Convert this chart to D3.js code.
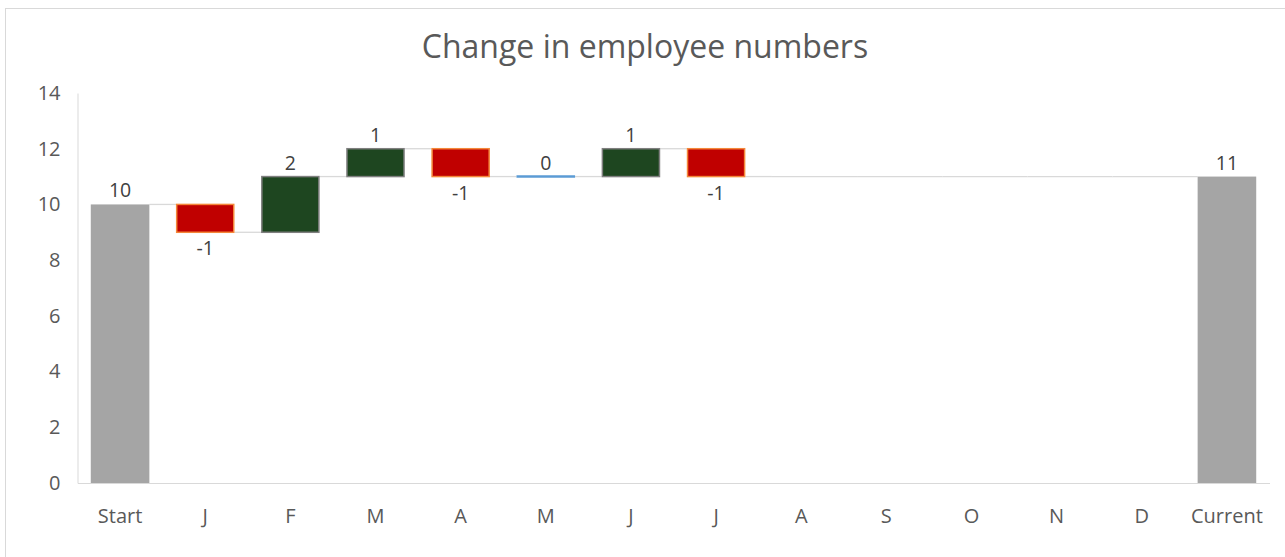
<!DOCTYPE html>
<html>
<head>
<meta charset="utf-8">
<script src="https://cdn.jsdelivr.net/npm/d3@7"></script>
<style>
  body { margin: 0; background: #fff; }
  svg { display: block; font-family: "Open Sans", "Noto Sans", sans-serif; }
</style>
</head>
<body>
<svg id="chart" width="1285" height="557"></svg>
<script>
// chart data
const categories = ['Start', 'J', 'F', 'M', 'A', 'M', 'J', 'J', 'A', 'S', 'O', 'N', 'D', 'Current'];
const startValue = 10;
const monthChanges = [-1, 2, 1, -1, 0, 1, -1, null, null, null, null, null];
const currentValue = 11;
const yTicks = [0, 2, 4, 6, 8, 10, 12, 14];

const svg = d3.select('#chart');
const margin = { left: 77.5, right: 15.5, top: 93, bottom: 74 };
const W = 1285, H = 557;

// outer frame
svg.append('rect')
  .attr('x', 5.5).attr('y', 8.5)
  .attr('width', 1285).attr('height', 560)
  .attr('fill', 'none').attr('stroke', '#d9d9d9');

svg.append('text')
  .attr('x', 645).attr('y', 58)
  .attr('text-anchor', 'middle')
  .attr('font-size', 32)
  .attr('fill', '#595959')
  .text('Change in employee numbers');

// build waterfall rows
let level = startValue;
const rows = [{ i: 0, type: 'total', lo: 0, hi: startValue, label: startValue, end: startValue }];
monthChanges.forEach((c, k) => {
  const i = k + 1;
  if (c === null) {
    rows.push({ i, type: 'empty', end: level });
    return;
  }
  const before = level;
  level += c;
  rows.push({
    i, type: c > 0 ? 'up' : (c < 0 ? 'down' : 'zero'),
    lo: Math.min(before, level), hi: Math.max(before, level),
    label: c, value: c, end: level
  });
});
rows.push({ i: categories.length - 1, type: 'total', lo: 0, hi: currentValue, label: currentValue, end: currentValue });

const x = d3.scaleBand()
  .domain(d3.range(categories.length))
  .range([margin.left, W - margin.right])
  .paddingInner(0.312).paddingOuter(0.156);
const y = d3.scaleLinear().domain([0, 14]).range([H - margin.bottom, margin.top]);
const bw = x.bandwidth();

// axes
const yAxis = svg.append('g')
  .attr('transform', `translate(${margin.left},0)`)
  .call(d3.axisLeft(y).tickValues(yTicks).tickSize(0).tickPadding(17))
  .attr('font-family', null).attr('font-size', 20);
yAxis.select('.domain').attr('stroke', '#d9d9d9');
yAxis.selectAll('text').attr('fill', '#595959');

const xAxis = svg.append('g')
  .attr('transform', `translate(0,${y(0)})`)
  .call(d3.axisBottom(x).tickFormat(i => categories[i]).tickSize(0).tickPadding(26))
  .attr('font-family', null).attr('font-size', 20);
xAxis.select('.domain').attr('stroke', '#d9d9d9');
xAxis.selectAll('text').attr('fill', '#595959');

// connectors
const conn = svg.append('g').attr('stroke', '#d9d9d9').attr('stroke-width', 1.3);
rows.forEach((r, k) => {
  if (k === rows.length - 1) return;
  const yy = y(r.end);
  const x0 = r.type === 'empty' ? x(r.i) : x(r.i) + bw;
  conn.append('line')
    .attr('x1', x0).attr('x2', x(rows[k + 1].i))
    .attr('y1', yy).attr('y2', yy);
});

// bars
const styles = {
  total: { fill: '#a5a5a5', stroke: 'none' },
  up: { fill: '#1e4620', stroke: '#7f7f7f' },
  down: { fill: '#c00000', stroke: '#f4873a' }
};
svg.append('g').selectAll('rect')
  .data(rows.filter(r => styles[r.type]))
  .join('rect')
  .attr('x', r => x(r.i) + (r.type === 'total' ? 0 : 0.75))
  .attr('width', r => bw - (r.type === 'total' ? 0 : 1.5))
  .attr('y', r => y(r.hi))
  .attr('height', r => y(r.lo) - y(r.hi))
  .attr('fill', r => styles[r.type].fill)
  .attr('stroke', r => styles[r.type].stroke)
  .attr('stroke-width', 1.5);

svg.append('g').selectAll('line')
  .data(rows.filter(r => r.type === 'zero'))
  .join('line')
  .attr('x1', r => x(r.i)).attr('x2', r => x(r.i) + bw)
  .attr('y1', r => y(r.hi)).attr('y2', r => y(r.hi))
  .attr('stroke', '#5b9bd5').attr('stroke-width', 2.5);

// value labels
svg.append('g').selectAll('text')
  .data(rows.filter(r => r.label !== undefined))
  .join('text')
  .attr('x', r => x(r.i) + bw / 2)
  .attr('y', r => r.type === 'down' ? y(r.lo) + 23 : y(r.hi) - 7)
  .attr('text-anchor', 'middle')
  .attr('font-size', 19.5)
  .attr('fill', '#404040')
  .text(r => r.label);
</script>
</body>
</html>
